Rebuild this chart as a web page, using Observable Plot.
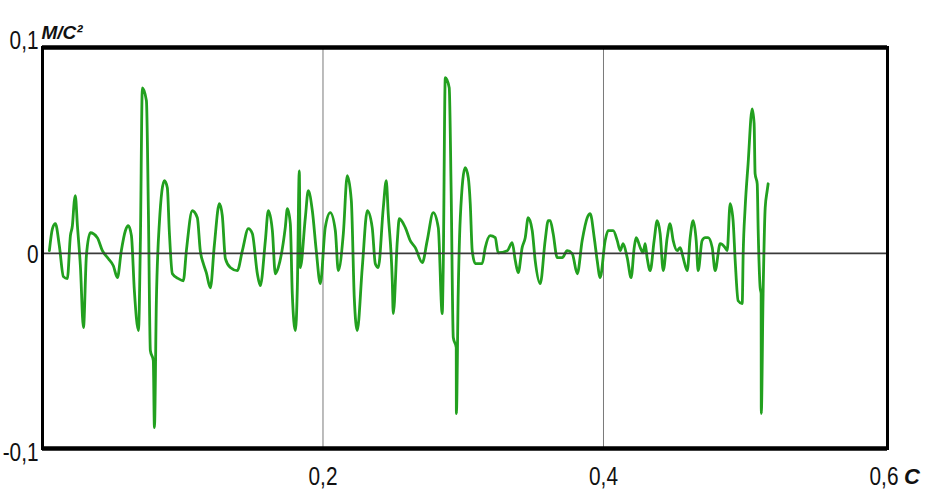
<!DOCTYPE html>
<html>
<head>
<meta charset="utf-8">
<script src="https://cdn.jsdelivr.net/npm/d3@7"></script>
<script src="https://cdn.jsdelivr.net/npm/@observablehq/plot@0.6"></script>
<style>
  html, body { margin: 0; padding: 0; background: #fff; }
  #chart svg { display: block; }
</style>
</head>
<body>
<div id="chart"></div>
<script>
// time, s
const time = [
  0.0049,0.0071,0.0092,0.0120,0.0149,0.0177,0.0199,0.0213,0.0227,0.0234,0.0249,0.0270,0.0292,0.0313,0.0341,0.0391,0.0427,0.0470,0.0505,0.0534,
  0.0562,0.0591,0.0612,0.0634,0.0655,0.0684,0.0698,0.0712,0.0741,0.0755,0.0769,0.0790,0.0798,0.0812,0.0833,0.0869,0.0890,0.0904,0.0926,0.0969,
  0.1004,0.1026,0.1068,0.1104,0.1125,0.1147,0.1168,0.1197,0.1225,0.1261,0.1282,0.1304,0.1339,0.1389,0.1425,0.1468,0.1496,0.1532,0.1553,0.1589,
  0.1610,0.1639,0.1660,0.1681,0.1731,0.1746,0.1767,0.1781,0.1803,0.1817,0.1831,0.1838,0.1874,0.1895,0.1924,0.1952,0.1981,0.2016,0.2052,0.2088,
  0.2109,0.2145,0.2173,0.2202,0.2223,0.2244,0.2280,0.2316,0.2351,0.2373,0.2394,0.2430,0.2451,0.2465,0.2494,0.2501,0.2530,0.2544,0.2587,0.2622,
  0.2658,0.2708,0.2743,0.2786,0.2822,0.2850,0.2857,0.2872,0.2900,0.2914,0.2929,0.2950,0.2951,0.2964,0.2979,0.3014,0.3036,0.3050,0.3064,0.3086,
  0.3135,0.3157,0.3192,0.3228,0.3249,0.3314,0.3349,0.3371,0.3392,0.3420,0.3442,0.3463,0.3492,0.3513,0.3549,0.3584,0.3606,0.3620,0.3641,0.3670,
  0.3706,0.3741,0.3777,0.3813,0.3848,0.3884,0.3905,0.3934,0.3955,0.3976,0.4012,0.4033,0.4069,0.4098,0.4119,0.4140,0.4169,0.4197,0.4219,0.4233,
  0.4262,0.4283,0.4297,0.4311,0.4333,0.4361,0.4383,0.4404,0.4426,0.4454,0.4475,0.4497,0.4525,0.4547,0.4568,0.4597,0.4618,0.4639,0.4661,0.4675,
  0.4703,0.4725,0.4746,0.4775,0.4796,0.4832,0.4867,0.4882,0.4903,0.4924,0.4939,0.4960,0.4989,0.4996,0.5010,0.5031,0.5060,0.5074,0.5081,0.5096,
  0.5103,0.5117,0.5124,0.5125,0.5138,0.5153,0.5167,0.5174
];
// acceleration, m/s^2
const accel = [
  0.0013,0.0120,0.0144,0.0037,-0.0113,-0.0123,0.0086,0.0134,0.0256,0.0280,0.0134,-0.0060,-0.0361,-0.0011,0.0100,0.0076,0.0013,-0.0026,-0.0060,-0.0118,
  0.0013,0.0110,0.0134,0.0086,-0.0181,-0.0375,0.0062,0.0804,0.0741,0.0207,-0.0472,-0.0521,-0.0846,-0.0230,0.0144,0.0353,0.0319,0.0110,-0.0099,-0.0123,
  -0.0133,0.0013,0.0207,0.0173,0.0013,-0.0050,-0.0094,-0.0167,0.0037,0.0241,0.0183,-0.0026,-0.0069,-0.0084,0.0013,0.0120,0.0096,-0.0099,-0.0157,0.0062,
  0.0207,0.0110,-0.0099,-0.0069,0.0125,0.0217,0.0144,-0.0196,-0.0375,-0.0167,0.0401,-0.0069,0.0173,0.0304,0.0207,0.0013,-0.0147,0.0125,0.0198,0.0110,
  -0.0084,0.0096,0.0377,0.0256,-0.0215,-0.0375,-0.0069,0.0207,0.0125,-0.0050,-0.0069,0.0222,0.0353,0.0193,-0.0133,-0.0293,0.0062,0.0168,0.0125,0.0062,
  0.0028,-0.0045,0.0062,0.0198,0.0125,-0.0293,-0.0084,0.0853,0.0804,0.0290,-0.0409,-0.0458,-0.0778,-0.0196,0.0173,0.0416,0.0367,0.0241,0.0013,-0.0050,
  -0.0050,0.0028,0.0086,0.0076,0.0003,0.0013,0.0052,-0.0035,-0.0094,0.0028,0.0076,0.0173,0.0110,-0.0035,-0.0147,0.0062,0.0159,0.0159,0.0096,-0.0021,
  -0.0021,0.0013,-0.0001,-0.0099,0.0062,0.0173,0.0193,0.0076,-0.0035,-0.0118,0.0062,0.0110,0.0110,0.0062,0.0013,0.0047,-0.0021,-0.0118,0.0028,0.0076,
  0.0028,0.0003,0.0047,-0.0021,-0.0084,0.0062,0.0159,0.0096,-0.0084,0.0076,0.0144,0.0062,0.0013,0.0028,-0.0021,-0.0084,0.0076,0.0159,0.0062,-0.0084,
  0.0062,0.0076,0.0076,0.0028,-0.0084,0.0047,0.0028,0.0013,0.0241,0.0159,-0.0035,-0.0230,-0.0244,-0.0001,0.0222,0.0435,0.0702,0.0630,0.0387,0.0338,
  0.0110,-0.0167,-0.0196,-0.0778,-0.0196,0.0222,0.0304,0.0338
];
const xTicks = [0.2, 0.4, 0.6];
const xGrid = [0.2, 0.4];
const yTicks = [0.1, 0, -0.1];
const xUnit = "С";
const yUnit = "М/С²";

const xDomain = [0, 0.6025];
const yDomain = [-0.0948, 0.1];

const signal = time.map((t, i) => ({t, a: accel[i]}));
const fmt = d => String(d).replace(".", ",");
const tickFont = "'Liberation Sans', Arial, sans-serif";
const unitFont = "'Liberation Sans', Arial, sans-serif";

const chart = Plot.plot({
  width: 925,
  height: 499,
  marginLeft: 42,
  marginRight: 38,
  marginTop: 47,
  marginBottom: 51,
  x: {domain: xDomain, axis: null},
  y: {domain: yDomain, axis: null},
  marks: [
    Plot.ruleX(xGrid, {stroke: "#7a7a7a", strokeWidth: 1}),
    Plot.line(signal, {x: "t", y: "a", stroke: "#22a01f", strokeWidth: 2.8, strokeLinejoin: "round", curve: "monotone-x"}),
    Plot.ruleY([0], {stroke: "#3a3a3a", strokeWidth: 1.6}),
    Plot.frame({stroke: "#000", strokeWidth: 3}),
    Plot.ruleY([yDomain[1], yDomain[0]], {stroke: "#000", strokeWidth: 4.5}),
    // y tick labels
    Plot.text(yTicks.filter(d => d !== 0), {x: xDomain[0], y: d => d, text: fmt, textAnchor: "end", dx: -4, dy: -7,
      fontSize: 26, fontFamily: tickFont, fill: "#111"}),
    Plot.text(yTicks.filter(d => d === 0), {x: xDomain[0], y: d => d, text: fmt, textAnchor: "end", dx: -4, dy: 1,
      fontSize: 26, fontFamily: tickFont, fill: "#111"}),
    // x tick labels
    Plot.text(xTicks, {x: d => d, y: yDomain[0], text: fmt, dy: 28, fontSize: 26, fontFamily: tickFont, fill: "#111"}),
    // units
    Plot.text([xUnit], {x: xTicks[2], y: yDomain[0], text: d => d, dx: 28, dy: 28, fontSize: 22, fontWeight: "bold",
      fontStyle: "italic", fontFamily: unitFont, fill: "#111"}),
    Plot.text([yUnit], {x: xDomain[0], y: yDomain[1], text: d => d, textAnchor: "start", dx: -1, dy: -15, fontSize: 19,
      fontWeight: "bold", fontStyle: "italic", fontFamily: unitFont, fill: "#111"})
  ]
});
document.getElementById("chart").append(chart);

// condense the tick labels horizontally (narrow face not installed)
chart.querySelectorAll('g[font-size="26"] text').forEach(el => {
  const tr = el.getAttribute("transform");
  if (tr && !el.hasAttribute("x")) el.setAttribute("transform", tr + " scale(0.8,1)");
});
</script>
</body>
</html>
